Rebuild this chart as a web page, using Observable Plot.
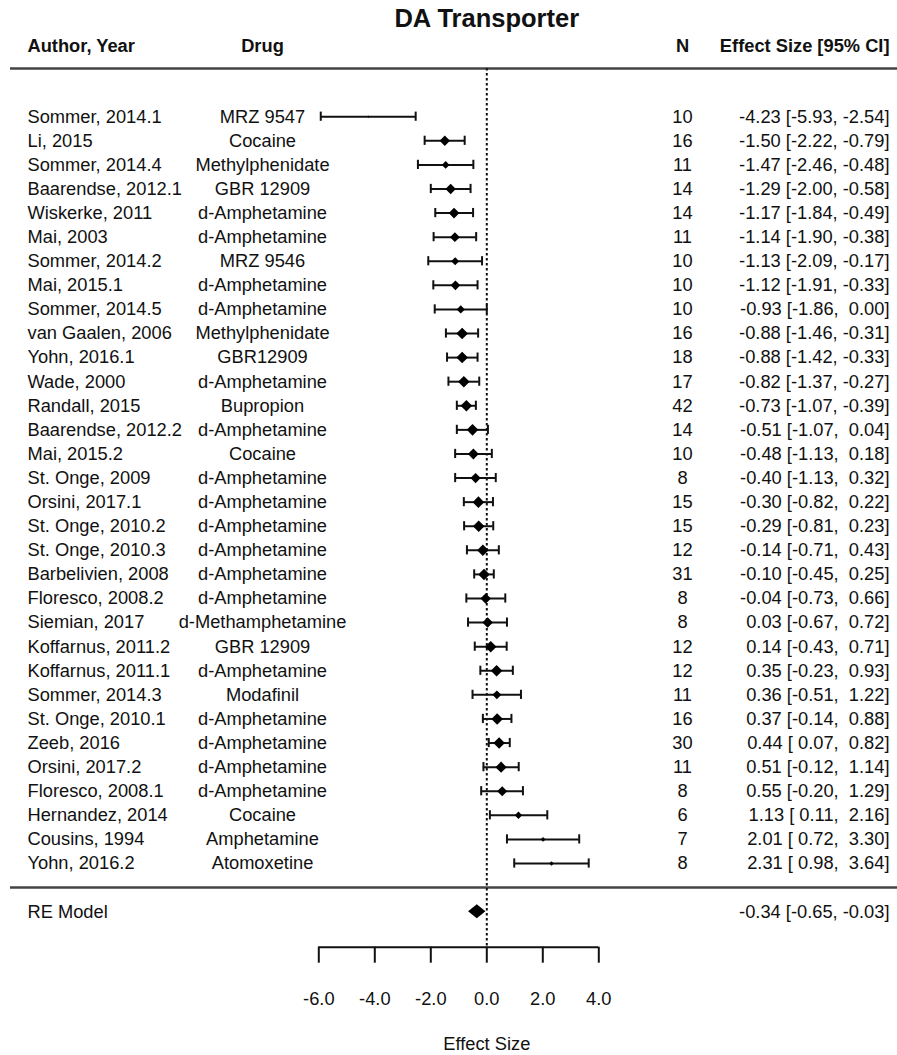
<!DOCTYPE html>
<html>
<head>
<meta charset="utf-8">
<script src="https://cdn.jsdelivr.net/npm/d3@7"></script>
<script src="https://cdn.jsdelivr.net/npm/@observablehq/plot@0.6"></script>
<style>
  html, body { margin: 0; padding: 0; background: #fff; }
</style>
</head>
<body>
<div id="chart"></div>
<script>
// Studies of DA transporter manipulations: standardized effect sizes with 95% CIs
const authors = [
  "Sommer, 2014.1", "Li, 2015", "Sommer, 2014.4", "Baarendse, 2012.1", "Wiskerke, 2011",
  "Mai, 2003", "Sommer, 2014.2", "Mai, 2015.1", "Sommer, 2014.5", "van Gaalen, 2006",
  "Yohn, 2016.1", "Wade, 2000", "Randall, 2015", "Baarendse, 2012.2", "Mai, 2015.2",
  "St. Onge, 2009", "Orsini, 2017.1", "St. Onge, 2010.2", "St. Onge, 2010.3", "Barbelivien, 2008",
  "Floresco, 2008.2", "Siemian, 2017", "Koffarnus, 2011.2", "Koffarnus, 2011.1", "Sommer, 2014.3",
  "St. Onge, 2010.1", "Zeeb, 2016", "Orsini, 2017.2", "Floresco, 2008.1", "Hernandez, 2014",
  "Cousins, 1994", "Yohn, 2016.2"
];
const drugs = [
  "MRZ 9547", "Cocaine", "Methylphenidate", "GBR 12909", "d-Amphetamine",
  "d-Amphetamine", "MRZ 9546", "d-Amphetamine", "d-Amphetamine", "Methylphenidate",
  "GBR12909", "d-Amphetamine", "Bupropion", "d-Amphetamine", "Cocaine",
  "d-Amphetamine", "d-Amphetamine", "d-Amphetamine", "d-Amphetamine", "d-Amphetamine",
  "d-Amphetamine", "d-Methamphetamine", "GBR 12909", "d-Amphetamine", "Modafinil",
  "d-Amphetamine", "d-Amphetamine", "d-Amphetamine", "d-Amphetamine", "Cocaine",
  "Amphetamine", "Atomoxetine"
];
const sampleN = [10, 16, 11, 14, 14, 11, 10, 10, 10, 16, 18, 17, 42, 14, 10, 8, 15, 15, 12, 31, 8, 8, 12, 12, 11, 16, 30, 11, 8, 6, 7, 8];
const effect = [-4.23, -1.50, -1.47, -1.29, -1.17, -1.14, -1.13, -1.12, -0.93, -0.88, -0.88, -0.82, -0.73, -0.51, -0.48, -0.40,
                -0.30, -0.29, -0.14, -0.10, -0.04, 0.03, 0.14, 0.35, 0.36, 0.37, 0.44, 0.51, 0.55, 1.13, 2.01, 2.31];
const ciLower = [-5.93, -2.22, -2.46, -2.00, -1.84, -1.90, -2.09, -1.91, -1.86, -1.46, -1.42, -1.37, -1.07, -1.07, -1.13, -1.13,
                 -0.82, -0.81, -0.71, -0.45, -0.73, -0.67, -0.43, -0.23, -0.51, -0.14, 0.07, -0.12, -0.20, 0.11, 0.72, 0.98];
const ciUpper = [-2.54, -0.79, -0.48, -0.58, -0.49, -0.38, -0.17, -0.33, 0.00, -0.31, -0.33, -0.27, -0.39, 0.04, 0.18, 0.32,
                 0.22, 0.23, 0.43, 0.25, 0.66, 0.72, 0.71, 0.93, 1.22, 0.88, 0.82, 1.14, 1.29, 2.16, 3.30, 3.64];

// Random-effects pooled estimate
const pooledLabel = "RE Model";
const pooled = {est: -0.34, lo: -0.65, hi: -0.03};

const axisTicks = [-6, -4, -2, 0, 2, 4];
const title = "DA Transporter";
const headers = {author: "Author, Year", drug: "Drug", n: "N", effect: "Effect Size [95% CI]"};
const xLabel = "Effect Size";

// ---- layout ----
const W = 897, H = 1055;
const rowPx = 24.09;      // vertical spacing between study rows
const row0Px = 116.2;     // centre of the first study row
const axisPx = 946.7;     // baseline of the x axis
const zeroPx = 486.3;     // horizontal position of effect size 0
const unitPx = 28;        // pixels per effect-size unit
const toRow = px => (px - row0Px) / rowPx;

const pad = v => (v < 0 ? "" : " ") + v.toFixed(2);
const ciText = (e, l, h) => `${pad(e)} [${pad(l)}, ${pad(h)}]`;

const studies = authors.map((author, i) => ({
  row: i,
  author,
  drug: drugs[i],
  n: sampleN[i],
  est: effect[i],
  lo: ciLower[i],
  hi: ciUpper[i],
  se: (ciUpper[i] - ciLower[i]) / (2 * 1.96),
  label: ciText(effect[i], ciLower[i], ciUpper[i])
}));

const nStudies = studies.length;
const sepRow = nStudies;          // rule between studies and summary
const pooledRow = nStudies + 1;   // summary row
const topRuleRow = -2;
const headerRow = toRow(45.5);
const capHalf = 4.6 / rowPx;
const diamondHalf = 7 / rowPx;
const axisRow = toRow(axisPx);

const pooledDiamond = [
  {y: pooledRow - diamondHalf, x1: pooled.est, x2: pooled.est},
  {y: pooledRow, x1: pooled.lo, x2: pooled.hi},
  {y: pooledRow + diamondHalf, x1: pooled.est, x2: pooled.est}
];

const ink = "#111";
const fs = 18.3;
const lw = 2;

const chart = Plot.plot({
  width: W,
  height: H,
  marginLeft: 0,
  marginRight: 0,
  marginTop: 0,
  marginBottom: H - axisPx,
  style: {fontFamily: "'Liberation Sans', Arial, Helvetica, sans-serif", fontSize: fs + "px", color: ink, background: "#fff"},
  x: {domain: [-zeroPx / unitPx, (W - zeroPx) / unitPx], range: [0, W]},
  y: {domain: [toRow(0), axisRow], reverse: true, axis: null},
  r: {type: "linear", domain: [0.30, 0.80], range: [5.2, 1.0], clamp: true},
  marks: [
    // title and column headers
    Plot.text([title], {x: 0, y: toRow(18.3), text: d => d, fontSize: 25.5, fontWeight: "bold", fill: ink}),
    Plot.text([headers.author], {frameAnchor: "left", dx: 27, y: headerRow, text: d => d, textAnchor: "start", fontWeight: "bold", fill: ink}),
    Plot.text([headers.drug], {frameAnchor: "left", dx: 262, y: headerRow, text: d => d, textAnchor: "middle", fontWeight: "bold", fill: ink}),
    Plot.text([headers.n], {frameAnchor: "left", dx: 682, y: headerRow, text: d => d, textAnchor: "middle", fontWeight: "bold", fill: ink}),
    Plot.text([headers.effect], {frameAnchor: "right", dx: -8, y: headerRow, text: d => d, textAnchor: "end", fontWeight: "bold", fill: ink}),

    // horizontal separators
    Plot.ruleY([topRuleRow, sepRow], {insetLeft: 10, stroke: "#444", strokeWidth: 2.5}),

    // reference line at zero
    Plot.ruleX([0], {y1: topRuleRow, y2: axisRow, stroke: ink, strokeWidth: 2, strokeDasharray: "2.5,2.5"}),

    // confidence intervals with end caps
    Plot.ruleY(studies, {y: "row", x1: "lo", x2: "hi", stroke: ink, strokeWidth: lw}),
    Plot.ruleX(studies, {x: "lo", y1: d => d.row - capHalf, y2: d => d.row + capHalf, stroke: ink, strokeWidth: lw}),
    Plot.ruleX(studies, {x: "hi", y1: d => d.row - capHalf, y2: d => d.row + capHalf, stroke: ink, strokeWidth: lw}),

    // point estimates, sized by precision
    Plot.dot(studies, {x: "est", y: "row", r: "se", symbol: "diamond2", fill: "#000", stroke: "none"}),

    // study columns
    Plot.text(studies, {frameAnchor: "left", dx: 27, y: "row", text: "author", textAnchor: "start", fill: ink}),
    Plot.text(studies, {frameAnchor: "left", dx: 262, y: "row", text: "drug", textAnchor: "middle", fill: ink}),
    Plot.text(studies, {frameAnchor: "left", dx: 682, y: "row", text: d => String(d.n), textAnchor: "middle", fill: ink}),
    Plot.text(studies, {frameAnchor: "right", dx: -8, y: "row", text: "label", textAnchor: "end", fill: ink}),

    // pooled random-effects estimate
    Plot.areaX(pooledDiamond, {y: "y", x1: "x1", x2: "x2", fill: "#000"}),
    Plot.text([pooledLabel], {frameAnchor: "left", dx: 27, y: pooledRow, text: d => d, textAnchor: "start", fill: ink}),
    Plot.text([ciText(pooled.est, pooled.lo, pooled.hi)], {frameAnchor: "right", dx: -8, y: pooledRow, text: d => d, textAnchor: "end", fill: ink}),

    // x axis
    Plot.ruleY([axisRow], {x1: axisTicks[0], x2: axisTicks[axisTicks.length - 1], stroke: ink, strokeWidth: lw}),
    Plot.axisX({ticks: axisTicks, tickSize: 16, tickPadding: 29, tickFormat: d => d.toFixed(1), fontSize: fs, label: null, stroke: ink, strokeWidth: lw, fill: ink}),
    Plot.text([xLabel], {x: 0, y: toRow(1044), text: d => d, fill: ink})
  ]
});

document.getElementById("chart").appendChild(chart);
</script>
</body>
</html>
